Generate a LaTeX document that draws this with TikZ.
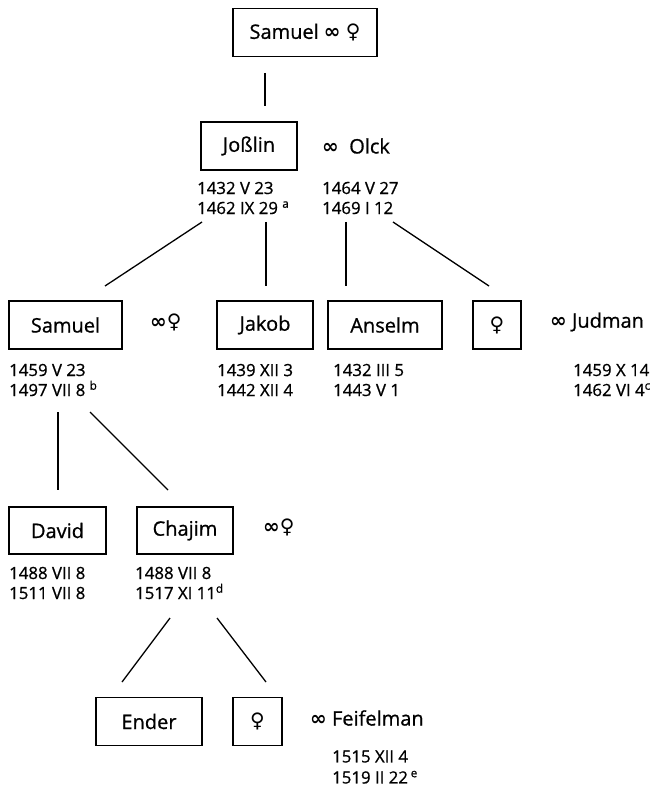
\documentclass[tikz,border=0pt]{standalone}
\usepackage{fontspec}
\setmainfont{Open Sans}[FakeBold=0.8]
\newfontfamily\symf{DejaVu Sans}
\newcommand{\mymarr}{{\symf\bfseries ∞}}
\newcommand{\myfem}{{\symf ♀}}
\begin{document}
\begin{tikzpicture}[x=1pt,y=-1pt,
  person/.style={draw,line width=1.3pt,minimum height=48pt,inner sep=0pt,font=\fontsize{20}{23}\selectfont},
  lbl/.style={anchor=west,inner sep=0pt,font=\fontsize{20}{23}\selectfont},
  dates/.style={anchor=west,inner sep=0pt,align=left,font=\fontsize{16.8}{20}\selectfont},
  conn/.style={line width=1.3pt}]
\useasboundingbox (0,0) rectangle (659,786);
% boxes
\node[person,minimum width=144pt] (top) at (305,32.5) {Samuel \mymarr\ \myfem};
\node[person,minimum width=96pt] (joss) at (249,146) {Joßlin};
\node[person,minimum width=113pt] (sam) at (65.5,325) {Samuel};
\node[person,minimum width=96pt] (jak) at (265,325) {Jakob};
\node[person,minimum width=114pt] (ans) at (385,325) {Anselm};
\node[person,minimum width=48pt] (fa) at (497,325) {\myfem};
\node[person,minimum width=97pt,minimum height=47pt] (dav) at (57.5,530.5) {David};
\node[person,minimum width=96pt,minimum height=47pt] (cha) at (185,530.5) {Chajim};
\node[person,minimum width=106pt] (end) at (149,721.5) {Ender};
\node[person,minimum width=49pt] (fb) at (257.5,721.5) {\myfem};
% spouses
\node[lbl] (olck) at (322,146) {\mymarr\ \ Olck};
\node[lbl] (samsp) at (150,322) {\mymarr\myfem};
\node[lbl] (jud) at (550,322) {\mymarr\ Judman};
\node[lbl] (chasp) at (263,527) {\mymarr\myfem};
\node[lbl] (feif) at (310,718) {\mymarr\ Feifelman};
% dates
\node[dates] (dj) at (197,198) {1432 V 23\\1462 IX 29 \textsuperscript{a}};
\node[dates] (do) at (322,198) {1464 V 27\\1469 I 12};
\node[dates] (ds) at (9,380) {1459 V 23\\1497 VII 8 \textsuperscript{b}};
\node[dates] (dk) at (217,380) {1439 XII 3\\1442 XII 4};
\node[dates] (da) at (333,380) {1432 III 5\\1443 V 1};
\node[dates] (dju) at (573,380) {1459 X 14\\1462 VI 4\textsuperscript{c}};
\node[dates] (dd) at (9,583) {1488 VII 8\\1511 VII 8};
\node[dates] (dc) at (135,583) {1488 VII 8\\1517 XI 11\textsuperscript{d}};
\node[dates,font=\fontsize{16.8}{21}\selectfont] (df) at (332,767) {1515 XII 4\\1519 II 22\,\textsuperscript{e}};
% connector ends
\coordinate (t1) at (265,73);  \coordinate (t2) at (265,106);
\coordinate (j1) at (202,222); \coordinate (j2) at (105,286);
\coordinate (k1) at (266,222); \coordinate (k2) at (266,286);
\coordinate (a1) at (346,222); \coordinate (a2) at (346,286);
\coordinate (f1) at (393,222); \coordinate (f2) at (489,286);
\coordinate (s1) at (58,412);  \coordinate (s2) at (58,490);
\coordinate (s3) at (90,412);  \coordinate (s4) at (168,490);
\coordinate (c1) at (170,618); \coordinate (c2) at (122,682);
\coordinate (c3) at (217,618); \coordinate (c4) at (266,682);
\draw[conn] (t1) -- (t2);
\draw[conn] (j1) -- (j2);
\draw[conn] (k1) -- (k2);
\draw[conn] (a1) -- (a2);
\draw[conn] (f1) -- (f2);
\draw[conn] (s1) -- (s2);
\draw[conn] (s3) -- (s4);
\draw[conn] (c1) -- (c2);
\draw[conn] (c3) -- (c4);
\end{tikzpicture}
\end{document}
